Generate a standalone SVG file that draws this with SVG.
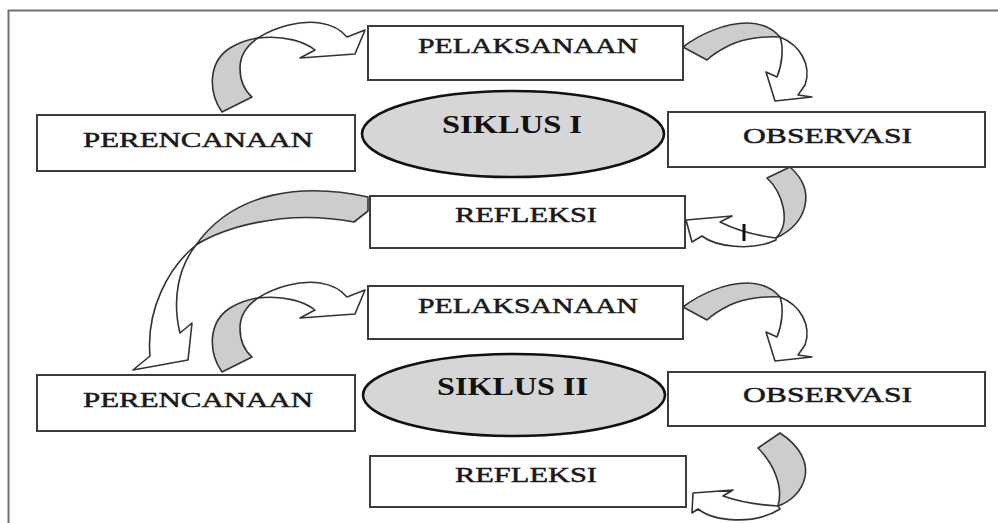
<svg xmlns="http://www.w3.org/2000/svg" width="998" height="523" viewBox="0 0 998 523">
<style>
.box{fill:#fff;stroke:#3c3c3c;stroke-width:2}
.ell{fill:#d6d6d6;stroke:#111;stroke-width:2.6}
.lbl{font-family:"Liberation Serif","Times New Roman",serif;font-size:22px;fill:#1a1a1a;stroke:#1a1a1a;stroke-width:0.5}
.cyc{font-family:"Liberation Serif","Times New Roman",serif;font-size:25px;font-weight:bold;fill:#111}
.g{fill:#cdcdcd;stroke:#333;stroke-width:1.6;stroke-linejoin:round}
.w{fill:#fff;stroke:#333;stroke-width:1.6;stroke-linejoin:round}
</style>
<rect width="998" height="523" fill="#fff"/>
<path d="M8.5,523 V10.5 H998" fill="none" stroke="#707070" stroke-width="2"/>
<g id="connectors">
  <g id="arrow1">
    <path class="g" d="M222,112 C208,92 208,62 230,48 C240,42 250,39 258,38 C246,46 240,56 240,68 C240,80 244,90 252,97 Z"/>
    <path class="w" d="M258,38 C275,27 300,20 320,23 C333,25 342,31 347,37 L365,30 L355,54 L300,58 L315,50 C305,42 285,35 258,38 Z"/>
  </g>
  <g id="arrow2">
    <path class="g" d="M683,47 C700,34 725,23 747,23 C762,23 773,29 780,37 C765,36 745,38 730,45 C720,50 712,55 707,60 Z"/>
    <path class="w" d="M780,37 C800,45 812,65 805,85 L798,95 L812,97 L775,101 L766,72 L777,77 C782,65 784,48 780,37 Z"/>
  </g>
  <g id="arrow3">
    <path class="g" d="M767,178 C782,192 792,222 776,238 C806,224 818,192 790,167 Z"/>
    <path class="w" d="M776,238 C760,236 740,232 720,222 L732,216 L686,220 L692,242 L702,236 C715,246 750,252 776,240 Z"/>
    <line x1="744" y1="224" x2="744" y2="241" stroke="#111" stroke-width="3"/>
  </g>
  <g id="arrow4">
    <path class="g" d="M368,197 C305,183 235,190 196,245 C220,230 280,208 354,222 L368,211 Z"/>
    <path class="w" d="M196,245 C168,268 146,310 150,356 L133,370 L188,360 L192,323 L180,333 C172,300 178,268 196,245 Z"/>
  </g>
  <g id="arrow5" transform="translate(0,260)">
    <path class="g" d="M222,112 C208,92 208,62 230,48 C240,42 250,39 258,38 C246,46 240,56 240,68 C240,80 244,90 252,97 Z"/>
    <path class="w" d="M258,38 C275,27 300,20 320,23 C333,25 342,31 347,37 L365,30 L355,54 L300,58 L315,50 C305,42 285,35 258,38 Z"/>
  </g>
  <g id="arrow6" transform="translate(0,260)">
    <path class="g" d="M683,47 C700,34 725,23 747,23 C762,23 773,29 780,37 C765,36 745,38 730,45 C720,50 712,55 707,60 Z"/>
    <path class="w" d="M780,37 C800,45 812,65 805,85 L798,95 L812,97 L775,101 L766,72 L777,77 C782,65 784,48 780,37 Z"/>
  </g>
  <g id="arrow7">
    <path class="g" d="M758,448 C772,462 784,485 778,506 C803,498 824,462 780,433 Z"/>
    <path class="w" d="M778,506 C760,505 740,502 723,496 L733,490 L693,493 L692,513 L698,509 C715,522 755,525 780,509 Z"/>
  </g>
</g>
<g id="pelaksanaan1"><rect class="box" x="368" y="26" width="315" height="54"/><text class="lbl" x="418" y="53" textLength="220" lengthAdjust="spacingAndGlyphs">PELAKSANAAN</text></g>
<g id="perencanaan1"><rect class="box" x="37" y="115" width="318" height="56"/><text class="lbl" x="83" y="147" textLength="230" lengthAdjust="spacingAndGlyphs">PERENCANAAN</text></g>
<g id="siklus1"><ellipse class="ell" cx="513" cy="134" rx="151" ry="43"/><text class="cyc" x="442" y="133" textLength="140" lengthAdjust="spacingAndGlyphs">SIKLUS I</text></g>
<g id="observasi1"><rect class="box" x="668" y="112" width="317" height="55"/><text class="lbl" x="743" y="143" textLength="169" lengthAdjust="spacingAndGlyphs">OBSERVASI</text></g>
<g id="refleksi1"><rect class="box" x="370" y="196" width="315" height="52"/><text class="lbl" x="455" y="222" textLength="142" lengthAdjust="spacingAndGlyphs">REFLEKSI</text></g>
<g id="pelaksanaan2"><rect class="box" x="368" y="286" width="315" height="53"/><text class="lbl" x="418" y="313" textLength="220" lengthAdjust="spacingAndGlyphs">PELAKSANAAN</text></g>
<g id="perencanaan2"><rect class="box" x="37" y="375" width="318" height="56"/><text class="lbl" x="83" y="407" textLength="230" lengthAdjust="spacingAndGlyphs">PERENCANAAN</text></g>
<g id="siklus2"><ellipse class="ell" cx="514" cy="395" rx="151" ry="41"/><text class="cyc" x="437" y="395" textLength="151" lengthAdjust="spacingAndGlyphs">SIKLUS II</text></g>
<g id="observasi2"><rect class="box" x="668" y="372" width="317" height="54"/><text class="lbl" x="743" y="402" textLength="169" lengthAdjust="spacingAndGlyphs">OBSERVASI</text></g>
<g id="refleksi2"><rect class="box" x="370" y="456" width="316" height="51"/><text class="lbl" x="455" y="482" textLength="142" lengthAdjust="spacingAndGlyphs">REFLEKSI</text></g>
</svg>
